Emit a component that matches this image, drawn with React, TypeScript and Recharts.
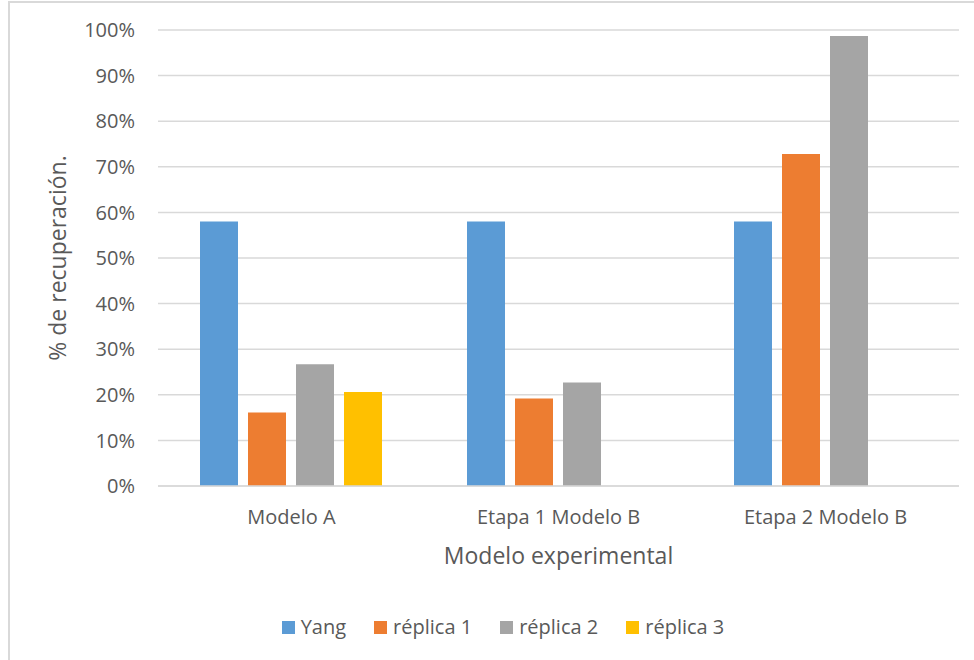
import React from "react";
import { BarChart, Bar, XAxis, YAxis, CartesianGrid, Legend } from "recharts";

const categories = ["Modelo A", "Etapa 1 Modelo B", "Etapa 2 Modelo B"];
const yang = [58, 58, 58];
const replica1 = [16.1, 19.2, 72.8];
const replica2 = [26.7, 22.7, 98.7];
const replica3 = [20.6, null, null];
const yTicks = [0, 10, 20, 30, 40, 50, 60, 70, 80, 90, 100];

const seriesNames = ["Yang", "réplica 1", "réplica 2", "réplica 3"];
const seriesKeys = ["yang", "r1", "r2", "r3"];
const seriesColors = ["#5b9bd5", "#ed7d31", "#a5a5a5", "#ffc000"];

const data = categories.map((c, i) => ({
  name: c,
  yang: yang[i],
  r1: replica1[i],
  r2: replica2[i],
  r3: replica3[i],
}));

const FONT = "'Open Sans', sans-serif";
const TEXT = "#595959";

const LegendContent = () => (
  <div style={{ display: "flex", justifyContent: "center", fontFamily: FONT, fontSize: 20, color: TEXT, lineHeight: "28px" }}>
    {seriesNames.map((n, i) => (
      <div key={n} style={{ display: "flex", alignItems: "center", marginRight: i < 3 ? 28 : 0 }}>
        <span style={{ width: 13, height: 13, background: seriesColors[i], display: "inline-block", marginRight: 6 }} />
        <span>{n}</span>
      </div>
    ))}
  </div>
);

export default function App() {
  return (
    <div style={{ position: "absolute", left: 0, top: 0, width: 974, height: 660, background: "#fff", overflow: "hidden" }}>
      <div style={{ position: "absolute", left: 8, top: 1, width: 980, height: 680, borderLeft: "2px solid #d9d9d9", borderTop: "2px solid #d9d9d9" }} />
      <div style={{ position: "absolute", left: 0, top: 0 }}>
        <BarChart
          width={974}
          height={660}
          data={data}
          margin={{ top: 30, right: 15, left: 0, bottom: 0 }}
          barCategoryGap={42}
          barGap={10}
        >
          <CartesianGrid vertical={false} stroke="#d9d9d9" strokeWidth={1.5} />
          <XAxis
            dataKey="name"
            height={174}
            axisLine={{ stroke: "#d9d9d9", strokeWidth: 1.5 }}
            tickLine={false}
            tickSize={0}
            tickMargin={24}
            tick={{ fill: TEXT, fontSize: 20, fontFamily: FONT }}
            label={{ value: "Modelo experimental", position: "insideTop", offset: 62, fill: TEXT, fontSize: 23, fontFamily: FONT }}
          />
          <YAxis
            width={158}
            domain={[0, 100]}
            ticks={yTicks}
            interval={0}
            axisLine={false}
            tickLine={false}
            tickSize={0}
            tickMargin={23}
            tickFormatter={(v: number) => `${v}%`}
            tick={{ fill: TEXT, fontSize: 20, fontFamily: FONT }}
            label={{ value: "% de recuperación.", angle: -90, position: "insideLeft", offset: 58, fill: TEXT, fontSize: 23, fontFamily: FONT, style: { textAnchor: "middle" } }}
          />
          <Legend
            verticalAlign="middle"
            layout="horizontal"
            content={<LegendContent />}
            wrapperStyle={{ top: 613, left: 16, width: 974 }}
          />
          {seriesKeys.map((k, i) => (
            <Bar key={k} dataKey={k} name={seriesNames[i]} fill={seriesColors[i]} isAnimationActive={false} />
          ))}
        </BarChart>
      </div>
    </div>
  );
}
